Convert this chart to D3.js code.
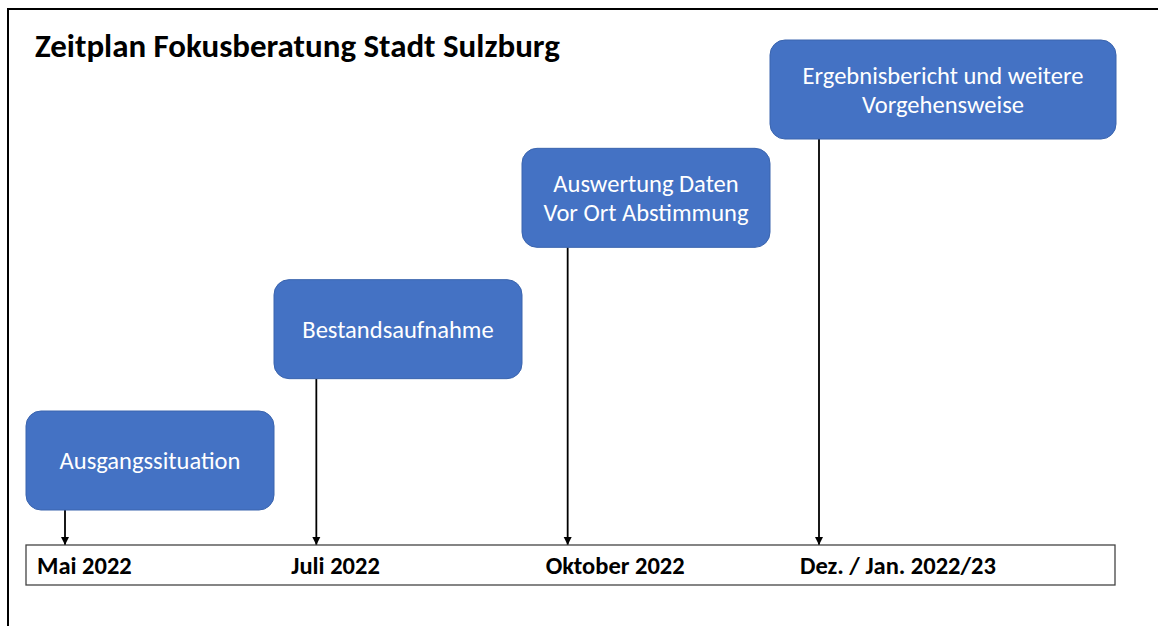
<!DOCTYPE html>
<html lang="de">
<head>
  <meta charset="UTF-8">
  <title>Zeitplan Fokusberatung Stadt Sulzburg</title>
  <script src="https://d3js.org/d3.v7.min.js"></script>
  <style>
    body { margin: 0; padding: 0; background: white; overflow: hidden; }
    svg { display: block; font-family: Carlito, Lato, sans-serif; }
  </style>
</head>
<body>
  <svg id="chart" width="1158" height="626"></svg>

  <script>
    // Phases of the timeline (box text, one entry per line)
    const phases = ["p1", "p2", "p3", "p4"];
    const phaseLabels = [
      ["Ausgangssituation"],
      ["Bestandsaufnahme"],
      ["Auswertung Daten", "Vor Ort Abstimmung"],
      ["Ergebnisbericht und weitere", "Vorgehensweise"]
    ];
    // Dates shown on the timeline bar
    const dateLabels = ["Mai 2022", "Juli 2022", "Oktober 2022", "Dez. / Jan. 2022/23"];
    const title = "Zeitplan Fokusberatung Stadt Sulzburg";

    const svg = d3.select("#chart");
    const W = +svg.attr("width");
    const H = +svg.attr("height");

    // layout
    const barTop = 545, barBottom = 585, barLeft = 26, barRight = 1115;
    const boxH = 99;
    const topLimit = 40;  // boxes stay below this line

    // boxes, arrows and date labels each get a scale over the phases
    const x = d3.scaleBand().domain(phases).range([barLeft, 1018]).paddingInner(0);
    const xArrow = d3.scalePoint().domain(phases).range([65, 819]);
    const xDate = d3.scalePoint().domain(phases).range([37, 800]);
    const y = d3.scaleLinear().domain([0, phases.length - 1]).range([411, 17]);

    // helper: pick a font size so a string gets the given width
    function fitSize(text, weight, target) {
      const t = svg.append("text").attr("font-size", 20).attr("font-weight", weight).text(text);
      const w = t.node().getComputedTextLength();
      t.remove();
      return 20 * target / w;
    }
    const titleSize = fitSize(title, "bold", 525);
    const boxSize = fitSize("Ausgangssituation", "normal", 181);
    const dateSize = fitSize("Dez. / Jan. 2022/23", "bold", 196);

    // outer frame (left and top line)
    svg.append("path")
      .attr("d", `M8,${H} L8,9 L${W},9`)
      .attr("fill", "none")
      .attr("stroke", "#000")
      .attr("stroke-width", 2);

    // title
    svg.append("text")
      .attr("x", 35)
      .attr("y", 57)
      .attr("font-size", titleSize)
      .attr("font-weight", "bold")
      .attr("fill", "#000")
      .text(title);

    // arrow marker
    svg.append("defs").append("marker")
      .attr("id", "arrow")
      .attr("viewBox", "0 0 8 10")
      .attr("refX", 8).attr("refY", 5)
      .attr("markerWidth", 8).attr("markerHeight", 10)
      .attr("markerUnits", "userSpaceOnUse")
      .attr("orient", "auto")
      .append("path")
      .attr("d", "M0,1 L8,5 L0,9 Z")
      .attr("fill", "#000");

    const boxTop = (d, i) => Math.max(y(i), topLimit);
    const boxW = (d, i) => i === phases.length - 1 ? barRight - x(d) + 1 : x.bandwidth();

    // connector arrows from box to timeline
    svg.selectAll(".arrow")
      .data(phases)
      .join("line")
      .attr("class", "arrow")
      .attr("x1", d => xArrow(d))
      .attr("x2", d => xArrow(d))
      .attr("y1", (d, i) => boxTop(d, i) + boxH)
      .attr("y2", barTop)
      .attr("stroke", "#000")
      .attr("stroke-width", 1.8)
      .attr("marker-end", "url(#arrow)");

    // phase boxes
    const boxes = svg.selectAll(".phase")
      .data(phases)
      .join("g")
      .attr("class", "phase");

    boxes.append("rect")
      .attr("x", d => x(d))
      .attr("y", boxTop)
      .attr("width", boxW)
      .attr("height", boxH)
      .attr("rx", 15)
      .attr("fill", "#4472C4")
      .attr("stroke", "#3A64AE")
      .attr("stroke-width", 1);

    const lineGap = 28.5;
    boxes.append("text")
      .attr("text-anchor", "middle")
      .attr("font-size", boxSize)
      .attr("fill", "#fff")
      .each(function (d, i) {
        const lines = phaseLabels[i];
        const cx = x(d) + boxW(d, i) / 2;
        const cy = boxTop(d, i) + boxH / 2;
        const cap = boxSize * 0.36;
        d3.select(this).selectAll("tspan")
          .data(lines)
          .join("tspan")
          .attr("x", cx)
          .attr("y", (l, k) => cy + (k - (lines.length - 1) / 2) * lineGap + cap)
          .text(l => l);
      });

    // timeline bar
    svg.append("rect")
      .attr("x", barLeft)
      .attr("y", barTop)
      .attr("width", barRight - barLeft)
      .attr("height", barBottom - barTop)
      .attr("fill", "#fff")
      .attr("stroke", "#444")
      .attr("stroke-width", 1.3);

    svg.selectAll(".date")
      .data(phases)
      .join("text")
      .attr("class", "date")
      .attr("x", d => xDate(d))
      .attr("y", (barTop + barBottom) / 2 + dateSize * 0.36)
      .attr("font-size", dateSize)
      .attr("font-weight", "bold")
      .attr("fill", "#000")
      .text((d, i) => dateLabels[i]);
  </script>
</body>
</html>
